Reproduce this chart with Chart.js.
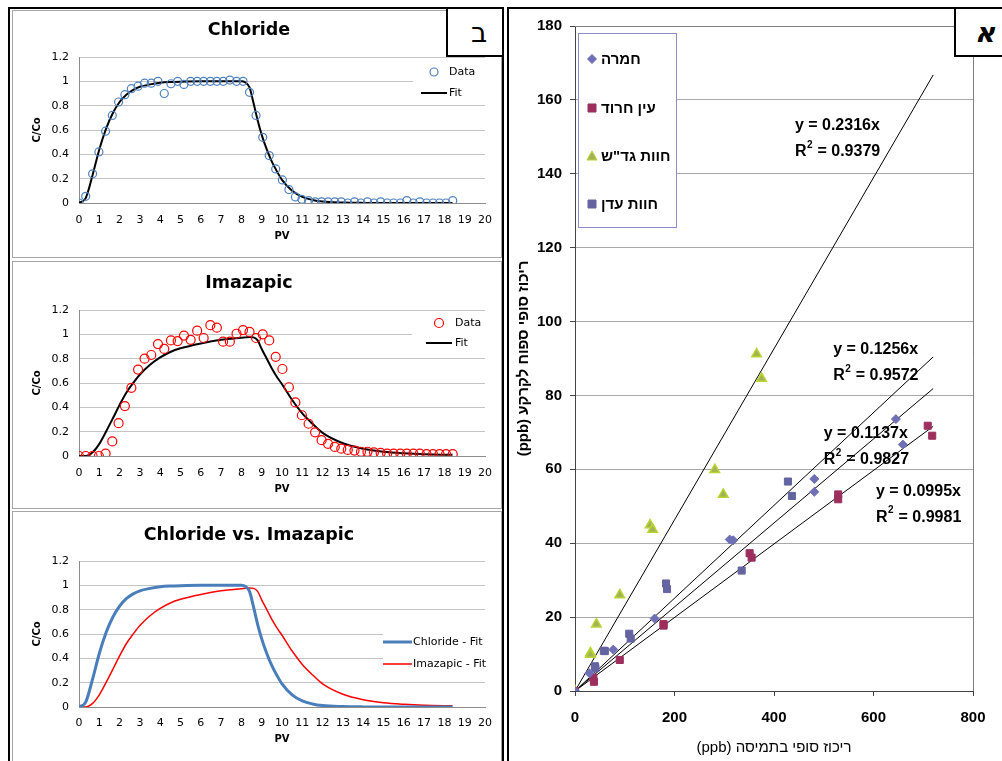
<!DOCTYPE html>
<html lang="he">
<head>
<meta charset="UTF-8">
<title>Chloride / Imazapic</title>
<script src="https://cdn.jsdelivr.net/npm/chart.js"></script>
<style>
  body { margin: 0; background: #fff; font-family: "DejaVu Sans", sans-serif; }
  #page { position: relative; width: 1002px; height: 761px; overflow: hidden; }
  .frame { position: absolute; border: 2px solid #000; box-sizing: border-box; }
  .box { position: absolute; border: 1px solid #a6a6a6; box-sizing: border-box; }
  .tag { position: absolute; border: 2px solid #000; background: #fff; box-sizing: border-box;
         display: flex; align-items: center; justify-content: center; font-size: 28px; }
  canvas { position: absolute; }
</style>
</head>
<body>
<div id="page">
  <div class="frame" style="left:8px; top:7px; width:496px; height:770px;"></div>
  <div class="box" style="left:12px; top:10px; width:490px; height:248px;"></div>
  <div class="box" style="left:12px; top:261px; width:490px; height:248px;"></div>
  <div class="box" style="left:12px; top:511px; width:490px; height:260px;"></div>
  <canvas id="chlorideChart" width="488" height="246" style="left:13px; top:11px;"></canvas>
  <canvas id="imazapicChart" width="488" height="246" style="left:13px; top:262px;"></canvas>
  <canvas id="compareChart" width="488" height="249" style="left:13px; top:512px;"></canvas>
  <div class="tag" style="left:446px; top:7px; width:58px; height:50px; padding-left:8px;">ב</div>

  <div class="frame" style="left:507px; top:7px; width:510px; height:770px;"></div>
  <canvas id="soilChart" dir="rtl" width="493" height="752" style="left:509px; top:9px;"></canvas>
  <div class="tag" style="left:954px; top:7px; width:52px; height:50px; font-weight:bold; font-style:italic; padding-left:10px;">א</div>
</div>

<script>
// ---- breakthrough curves (C/Co vs PV) ----
const pvValues = [0, 0.33, 0.67, 0.98, 1.31, 1.64, 1.95, 2.26, 2.58, 2.91, 3.23, 3.56, 3.89, 4.2, 4.53, 4.86,
  5.17, 5.5, 5.82, 6.14, 6.47, 6.79, 7.1, 7.43, 7.76, 8.08, 8.4, 8.72, 9.05, 9.37, 9.69, 10.02, 10.34, 10.66,
  10.98, 11.31, 11.63, 11.95, 12.27, 12.6, 12.92, 13.24, 13.57, 13.89, 14.21, 14.53, 14.86, 15.18, 15.5,
  15.83, 16.15, 16.47, 16.79, 17.12, 17.44, 17.76, 18.08, 18.41];
const chlorideData = [0, 0.055, 0.24, 0.42, 0.59, 0.72, 0.83, 0.89, 0.94, 0.96, 0.985, 0.985, 1.0, 0.9, 0.98, 1.0,
  0.975, 1.0, 1.0, 1.0, 1.0, 1.0, 1.0, 1.01, 1.0, 1.0, 0.91, 0.72, 0.54, 0.39, 0.28, 0.19, 0.11, 0.05,
  0.03, 0.02, 0.01, 0.01, 0.01, 0.01, 0.01, 0, 0.01, 0, 0.01, 0, 0.01, 0, 0,
  0, 0.02, 0, 0.01, 0, 0, 0, 0, 0.02];
const imazapicData = [0, 0, 0, 0, 0.02, 0.12, 0.27, 0.41, 0.56, 0.71, 0.8, 0.83, 0.92, 0.88, 0.95, 0.945,
  0.99, 0.955, 1.03, 0.97, 1.075, 1.055, 0.94, 0.94, 1.005, 1.035, 1.02, 0.97, 1.0, 0.95, 0.815, 0.715, 0.565, 0.44,
  0.335, 0.265, 0.195, 0.13, 0.1, 0.075, 0.06, 0.05, 0.045, 0.035, 0.035, 0.03, 0.025, 0.02, 0.02,
  0.02, 0.02, 0.02, 0.02, 0.015, 0.015, 0.015, 0.015, 0.015];

const pvFit = [0, 0.33, 0.67, 1, 1.33, 1.67, 2, 2.33, 2.67, 3, 3.5, 4, 4.5, 5, 6, 7, 8, 8.2, 8.4, 8.6, 8.8,
  9, 9.25, 9.5, 9.75, 10, 10.5, 11, 11.5, 12, 13, 14, 15, 16, 17, 18.4];
const chlorideFit = [0, 0.04, 0.23, 0.44, 0.61, 0.74, 0.83, 0.89, 0.93, 0.955, 0.975, 0.988, 0.994, 0.997, 1, 1, 1,
  0.99, 0.95, 0.82, 0.68, 0.56, 0.44, 0.34, 0.26, 0.19, 0.1, 0.05, 0.025, 0.012, 0.004, 0.001, 0, 0, 0, 0];
const imazapicFit = [0, 0, 0.03, 0.1, 0.2, 0.31, 0.42, 0.52, 0.6, 0.67, 0.75, 0.81, 0.855, 0.885, 0.925, 0.955, 0.972,
  0.975, 0.978, 0.975, 0.95, 0.88, 0.8, 0.72, 0.65, 0.59, 0.46, 0.35, 0.265, 0.19, 0.105, 0.06, 0.035, 0.022, 0.014, 0.01];

const pvTicks = { min: 0, max: 20, step: 1 };
const ccTicks = { min: 0, max: 1.2, step: 0.2 };

// ---- soil sorption (ppb) ----
const seriesNames = ['חמרה', 'עין חרוד', 'חוות גד"ש', 'חוות עדן'];
const hamraX = [0, 29, 77, 160, 311, 318, 481, 481, 645, 659];
const hamraY = [0, 4.8, 11.2, 19.6, 41.0, 40.8, 57.4, 53.9, 73.6, 66.7];
const einHarodX = [0, 37, 38, 90, 178, 178, 351, 355, 529, 529, 709, 718];
const einHarodY = [0, 3.6, 2.5, 8.4, 18.1, 17.7, 37.3, 36.1, 53.2, 51.9, 71.8, 69.1];
const gadashX = [0, 31, 31, 43, 90, 151, 156, 281, 298, 365, 375];
const gadashY = [0, 10.3, 9.9, 18.1, 26.0, 44.9, 43.7, 59.9, 53.2, 91.2, 84.6];
const edenX = [0, 40, 41, 58, 60, 109, 112, 183, 185, 335, 428, 436];
const edenY = [0, 6.7, 6.2, 10.9, 10.8, 15.5, 14.2, 29.1, 27.6, 32.6, 56.7, 52.8];

const trendSlopes = [0.2316, 0.1256, 0.1137, 0.0995];
const trendR2 = [0.9379, 0.9572, 0.9827, 0.9981];
const trendXMax = 720;
const eqAnchors = [[442, 153], [519, 92.3], [500, 69.6], [605, 54]];   // where each equation sits (data units)

const ppbX = { min: 0, max: 800, step: 200 };
const ppbY = { min: 0, max: 180, step: 20 };

const pts = (xs, ys) => xs.map((x, i) => ({ x: x, y: ys[i] }));

// legend drawn inside the plot, like the original
const boxLegend = {
  id: 'boxLegend',
  afterDraw(chart, args, o) {
    const { ctx, chartArea: a } = chart;
    const x0 = a.right - o.left, y0 = a.top + o.top;
    ctx.save();
    ctx.fillStyle = '#fff';
    ctx.fillRect(x0, y0, o.w, o.h);
    ctx.font = '11px "DejaVu Sans"';
    ctx.textBaseline = 'middle';
    ctx.textAlign = 'left';
    chart.data.datasets.forEach((ds, i) => {
      const y = y0 + o.rows[i];
      if (ds.showLine) {
        ctx.strokeStyle = ds.borderColor;
        ctx.lineWidth = ds.borderWidth;
        ctx.beginPath();
        ctx.moveTo(x0 + o.markL, y);
        ctx.lineTo(x0 + o.markR, y);
        ctx.stroke();
      } else {
        ctx.strokeStyle = ds.pointBorderColor;
        ctx.lineWidth = ds.pointBorderWidth;
        ctx.beginPath();
        ctx.arc(x0 + (o.markL + o.markR) / 2, y, ds.pointRadius, 0, Math.PI * 2);
        ctx.stroke();
      }
      ctx.fillStyle = '#000';
      ctx.fillText(ds.label, x0 + o.textX, y);
    });
    ctx.restore();
  }
};

function breakthroughChart(id, title, datasets, lay, legend) {
  return new Chart(document.getElementById(id), {
    type: 'scatter',
    data: { datasets: datasets },
    options: {
      responsive: false,
      animation: false,
      layout: { padding: { top: 0, left: 0, right: 16, bottom: 0 } },
      plugins: {
        legend: { display: false },
        tooltip: { enabled: false },
        title: {
          display: true, text: title, color: '#000',
          font: { family: 'DejaVu Sans', size: 17.5, weight: 'bold' },
          padding: { top: lay.tTop, bottom: lay.tBottom }
        },
        boxLegend: legend
      },
      scales: {
        x: {
          type: 'linear', min: pvTicks.min, max: pvTicks.max,
          ticks: { stepSize: pvTicks.step, autoSkip: false, maxRotation: 0, padding: lay.xPad, color: '#000',
                   font: { family: 'DejaVu Sans', size: 11 } },
          grid: { display: false },
          border: { color: '#8c8c8c' },
          title: { display: true, text: 'PV', color: '#000', font: { family: 'DejaVu Sans', size: 10, weight: 'bold' },
                   padding: { top: 0, bottom: lay.pvPad } },
          afterFit: s => { s.height = lay.xh; }
        },
        y: {
          min: ccTicks.min, max: ccTicks.max,
          ticks: { stepSize: ccTicks.step, padding: 10, color: '#000', callback: v => +v.toFixed(1),
                   font: { family: 'DejaVu Sans', size: 11 } },
          grid: { color: '#c4c4c4', drawTicks: false },
          border: { color: '#8c8c8c' },
          title: { display: true, text: 'C/Co', color: '#000', font: { family: 'DejaVu Sans', size: 10, weight: 'bold' },
                   padding: { top: 18, bottom: 0 } },
          afterFit: s => { s.width = 66; }
        }
      }
    },
    plugins: [boxLegend]
  });
}

const dataSet = (label, xs, ys, color, r) => ({
  label: label, data: pts(xs, ys), showLine: false,
  pointRadius: r, pointBorderColor: color, pointBackgroundColor: 'rgba(0,0,0,0)', pointBorderWidth: 1.2
});
const fitSet = (label, xs, ys, color, w) => ({
  label: label, data: pts(xs, ys), showLine: true, pointRadius: 0,
  borderColor: color, borderWidth: w, cubicInterpolationMode: 'monotone'
});

breakthroughChart('chlorideChart', 'Chloride',
  [dataSet('Data', pvValues, chlorideData, '#4F81BD', 4), fitSet('Fit', pvFit, chlorideFit, '#000', 2)],
  { tTop: 8.5, tBottom: 16.5, xh: 54, xPad: 3, pvPad: 15 },
  { left: 72, top: 5, w: 72, h: 40, rows: [10, 31], markL: 8, markR: 34, textX: 36 });

breakthroughChart('imazapicChart', 'Imazapic',
  [dataSet('Data', pvValues, imazapicData, '#FF0000', 4.5), fitSet('Fit', pvFit, imazapicFit, '#000', 2)],
  { tTop: 10.5, tBottom: 16.5, xh: 52, xPad: 3, pvPad: 13 },
  { left: 73, top: 3, w: 73, h: 40, rows: [10, 30], markL: 14, markR: 40, textX: 43 });

breakthroughChart('compareChart', 'Chloride vs. Imazapic',
  [fitSet('Chloride - Fit', pvFit, chlorideFit, '#4A7EBB', 3), fitSet('Imazapic - Fit', pvFit, imazapicFit, '#FF0000', 1.5)],
  { tTop: 12.5, tBottom: 15.5, xh: 54, xPad: 2, pvPad: 16 },
  { left: 102, top: 69, w: 102, h: 46, rows: [12, 34], markL: 0, markR: 29, textX: 30 });

// ---- right chart ----
const markerStyles = [
  { pointStyle: 'rectRot', pointRadius: 4.5, pointBackgroundColor: '#6F6FB5', pointBorderColor: '#6F6FB5' },
  { pointStyle: 'rect', pointRadius: 5, pointBackgroundColor: '#9C2F5E', pointBorderColor: '#9C2F5E' },
  { pointStyle: 'triangle', pointRadius: 5.5, pointBackgroundColor: '#A3B353', pointBorderColor: '#B8D433', pointBorderWidth: 1.5 },
  { pointStyle: 'rect', pointRadius: 5, pointBackgroundColor: '#6464A0', pointBorderColor: '#6464A0' }
];
const seriesXY = [[hamraX, hamraY], [einHarodX, einHarodY], [gadashX, gadashY], [edenX, edenY]];

const soilSets = seriesXY.map((s, i) => Object.assign({ label: seriesNames[i], data: pts(s[0], s[1]), showLine: false }, markerStyles[i]));
trendSlopes.forEach(m => soilSets.push({
  label: 'trend', data: [{ x: 0, y: 0 }, { x: trendXMax, y: m * trendXMax }],
  showLine: true, pointRadius: 0, borderColor: '#000', borderWidth: 1
}));

const soilExtras = {
  id: 'soilExtras',
  afterDraw(chart) {
    const { ctx, chartArea: a, scales } = chart;
    ctx.save();
    ctx.direction = 'ltr';
    // plot frame
    ctx.strokeStyle = '#7f7f7f';
    ctx.lineWidth = 1;
    ctx.beginPath();
    ctx.moveTo(a.left, a.top + 0.5); ctx.lineTo(a.right + 0.5, a.top + 0.5); ctx.lineTo(a.right + 0.5, a.bottom);
    ctx.stroke();

    // equations
    ctx.fillStyle = '#000';
    ctx.textAlign = 'left';
    ctx.textBaseline = 'middle';
    eqAnchors.forEach((p, i) => {
      const x = scales.x.getPixelForValue(p[0]);
      const y = scales.y.getPixelForValue(p[1]);
      ctx.font = 'bold 16px "Liberation Sans"';
      ctx.fillText('y = ' + trendSlopes[i].toFixed(4) + 'x', x, y);
      const y2 = y + 26;
      ctx.fillText('R', x, y2);
      const wR = ctx.measureText('R').width;
      ctx.font = 'bold 10px "Liberation Sans"';
      ctx.fillText('2', x + wR + 0.5, y2 - 7);
      const w2 = ctx.measureText('2').width;
      ctx.font = 'bold 16px "Liberation Sans"';
      ctx.fillText(' = ' + trendR2[i].toFixed(4), x + wR + w2 + 1, y2);
    });

    // legend box
    const lx = a.left + 3, ly = a.top + 7;
    ctx.fillStyle = '#fff';
    ctx.fillRect(lx, ly, 98, 194);
    ctx.strokeStyle = '#8c8cc8';
    ctx.strokeRect(lx + 0.5, ly + 0.5, 98, 194);
    const rows = [26, 75, 123, 171];
    ctx.direction = 'rtl';
    ctx.font = 'bold 15px "Liberation Sans"';
    chart.data.datasets.slice(0, 4).forEach((ds, i) => {
      const cx = lx + 14, cy = ly + rows[i];
      ctx.fillStyle = ds.pointBackgroundColor;
      ctx.strokeStyle = ds.pointBorderColor;
      ctx.lineWidth = 1;
      ctx.beginPath();
      if (ds.pointStyle === 'rectRot') {
        ctx.moveTo(cx, cy - 4.5); ctx.lineTo(cx + 4.5, cy); ctx.lineTo(cx, cy + 4.5); ctx.lineTo(cx - 4.5, cy);
      } else if (ds.pointStyle === 'triangle') {
        ctx.moveTo(cx, cy - 5); ctx.lineTo(cx + 5, cy + 4); ctx.lineTo(cx - 5, cy + 4);
      } else {
        ctx.rect(cx - 4, cy - 4, 8, 8);
      }
      ctx.closePath();
      ctx.fill();
      ctx.stroke();
      ctx.fillStyle = '#000';
      ctx.textAlign = 'left';
      ctx.fillText(ds.label, lx + 23, cy + 1);
    });
    ctx.restore();
  }
};

new Chart(document.getElementById('soilChart'), {
  type: 'scatter',
  data: { datasets: soilSets },
  options: {
    responsive: false,
    animation: false,
    layout: { padding: { top: 14, left: 0, right: 29, bottom: 0 } },
    plugins: { legend: { display: false }, tooltip: { enabled: false } },
    scales: {
      x: {
        type: 'linear', min: ppbX.min, max: ppbX.max,
        ticks: { stepSize: ppbX.step, padding: 13, color: '#000', maxRotation: 0,
                 font: { family: 'Liberation Sans', size: 15, weight: 'bold' } },
        grid: { drawOnChartArea: false, tickLength: 5, tickColor: '#444' },
        border: { color: '#444' },
        title: { display: true, text: 'ריכוז סופי בתמיסה (ppb)', color: '#000',
                 font: { family: 'Liberation Sans', size: 15 }, padding: { top: 0, bottom: 4 } },
        afterFit: s => { s.height = 70; }
      },
      y: {
        min: ppbY.min, max: ppbY.max,
        ticks: { stepSize: ppbY.step, padding: 8, color: '#000',
                 font: { family: 'Liberation Sans', size: 15, weight: 'bold' } },
        grid: { color: '#a8a8a8', tickLength: 5, tickColor: '#444' },
        border: { color: '#444' },
        title: { display: true, text: 'ריכוז סופי ספוח לקרקע (ppb)', color: '#000',
                 font: { family: 'Liberation Sans', size: 15, weight: 'bold' }, padding: { top: 6, bottom: 0 } },
        afterFit: s => { s.width = 66; }
      }
    }
  },
  plugins: [soilExtras]
});
</script>
</body>
</html>
